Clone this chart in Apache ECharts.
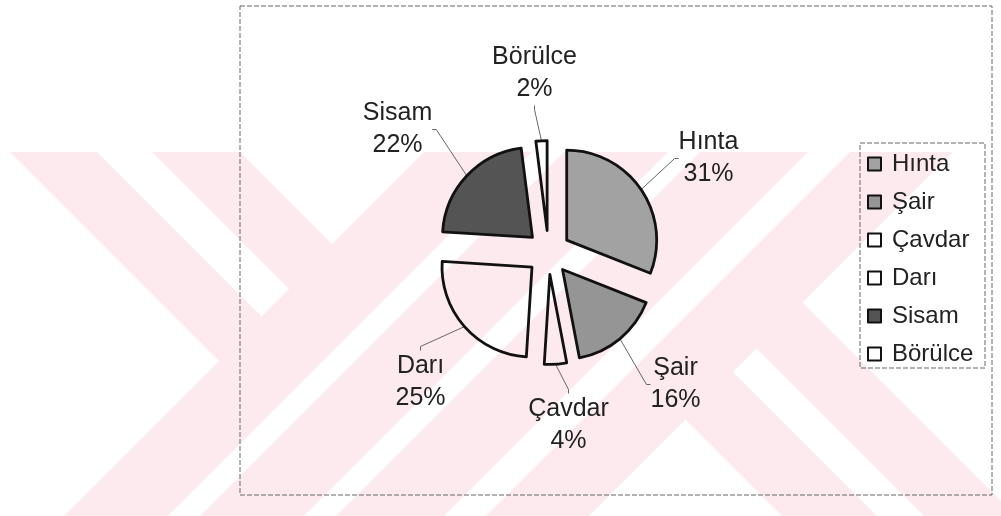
<!DOCTYPE html>
<html>
<head>
<meta charset="utf-8">
<script src="https://cdn.jsdelivr.net/npm/echarts/dist/echarts.min.js"></script>
<style>
html, body { margin: 0; padding: 0; background: #fff; }
#chart { width: 1001px; height: 516px; }
</style>
</head>
<body>
<div id="chart"></div>
<script>
// veriler
var names = ['Hınta', 'Şair', 'Çavdar', 'Darı', 'Sisam', 'Börülce'];
var values = [31, 16, 4, 25, 22, 2];

// dilim renkleri (beyaz dilimler şeffaf, arka plan görünsün)
var fills = ['#a2a2a2', '#959595', 'rgba(255,255,255,0)', 'rgba(255,255,255,0)', '#545454', 'rgba(255,255,255,0)'];

var cx = 548.5, cy = 252.5;
// etiketlerin pasta merkezine göre yeri
var labelAt = [[160, -94], [127, 132], [20, 173], [-128, 130], [-151, -123], [-14, -179]];

var font = '"Liberation Sans", Arial, sans-serif';

// arka plandaki filigran: pembe zemin üstünde beyaz şeritler
function clip(poly, a, b, c) {
    var out = [];
    for (var i = 0; i < poly.length; i++) {
        var p = poly[i], q = poly[(i + 1) % poly.length];
        var fp = a * p[0] + b * p[1] - c, fq = a * q[0] + b * q[1] - c;
        if (fp <= 0) out.push(p);
        if ((fp < 0 && fq > 0) || (fp > 0 && fq < 0)) {
            var t = fp / (fp - fq);
            out.push([p[0] + t * (q[0] - p[0]), p[1] + t * (q[1] - p[1])]);
        }
    }
    return out;
}
var whiteParts = [
    [[1, -1, -142], [1, 1, 580]],
    [[-1, 1, 55], [1, -1, 0], [1, 1, 578]],
    [[-1, 1, -88], [1, 1, 576]],
    [[-1, -1, -684], [1, 1, 716]],
    [[-1, -1, -820], [1, 1, 852]],
    [[-1, -1, -960], [1, 1, 1002]],
    [[-1, -1, -1105], [1, -1, 266]],
    [[-1, -1, -1105], [-1, 1, -361], [1, -1, 408]],
    [[-1, -1, -1105], [-1, 1, -500]]
];
var graphics = [{
    type: 'rect', silent: true, z: -10,
    shape: { x: 0, y: 152, width: 1001, height: 364 },
    style: { fill: '#fceaee' }
}];
whiteParts.forEach(function (planes) {
    var poly = [[0, 152], [1001, 152], [1001, 516], [0, 516]];
    planes.forEach(function (h) { poly = clip(poly, h[0], h[1], h[2]); });
    if (poly.length > 2) {
        graphics.push({ type: 'polygon', silent: true, z: -10, shape: { points: poly }, style: { fill: '#fff' } });
    }
});
// çerçeve ve lejant kutusu
graphics.push({
    type: 'rect', silent: true, z: -5,
    shape: { x: 240, y: 6, width: 752, height: 489 },
    style: { fill: 'none', stroke: '#666', lineWidth: 1, lineDash: [5, 2] }
});
graphics.push({
    type: 'rect', silent: true, z: -5,
    shape: { x: 860, y: 143, width: 125, height: 225 },
    style: { fill: 'none', stroke: '#666', lineWidth: 1, lineDash: [5, 2] }
});

var pieData = names.map(function (n, i) {
    return { name: n, value: values[i] };
});

var chart = echarts.init(document.getElementById('chart'));

var option = {
    animation: false,
    graphic: graphics,
    legend: {
        orient: 'vertical',
        left: 867,
        top: 152,
        padding: 0,
        itemWidth: 13,
        itemHeight: 13,
        itemGap: 14,
        icon: 'rect',
        selectedMode: false,
        textStyle: { fontSize: 24, lineHeight: 24, color: '#222', fontFamily: font, padding: [0, 0, 0, 6] },
        data: names
    },
    series: [{
        // ayrık dilimler
        type: 'pie',
        center: [cx, cy],
        radius: 90,
        startAngle: 90,
        clockwise: true,
        selectedMode: 'multiple',
        selectedOffset: 22,
        itemStyle: { borderColor: '#111', borderWidth: 2.8 },
        label: { show: false },
        labelLine: { show: false },
        emphasis: { disabled: true },
        data: pieData.map(function (d, i) {
            return { name: d.name, value: d.value, selected: true, itemStyle: { color: fills[i] } };
        })
    }, {
        // etiketler için görünmez dış halka
        type: 'pie',
        silent: true,
        center: [cx, cy],
        radius: 112,
        startAngle: 90,
        clockwise: true,
        selectedMode: false,
        avoidLabelOverlap: false,
        percentPrecision: 0,
        itemStyle: { color: 'rgba(0,0,0,0)', borderWidth: 0 },
        label: {
            formatter: '{b}\n{d}%',
            fontSize: 25,
            lineHeight: 32,
            color: '#222',
            fontFamily: font,
            align: 'center'
        },
        labelLine: { show: true, length: 6, length2: 4, lineStyle: { color: '#666', width: 1 } },
        labelLayout: function (p) {
            var o = labelAt[p.dataIndex];
            return { x: cx + o[0], y: cy + o[1], align: 'center', verticalAlign: 'middle' };
        },
        emphasis: { disabled: true },
        data: pieData
    }]
};

chart.setOption(option);
</script>
</body>
</html>
